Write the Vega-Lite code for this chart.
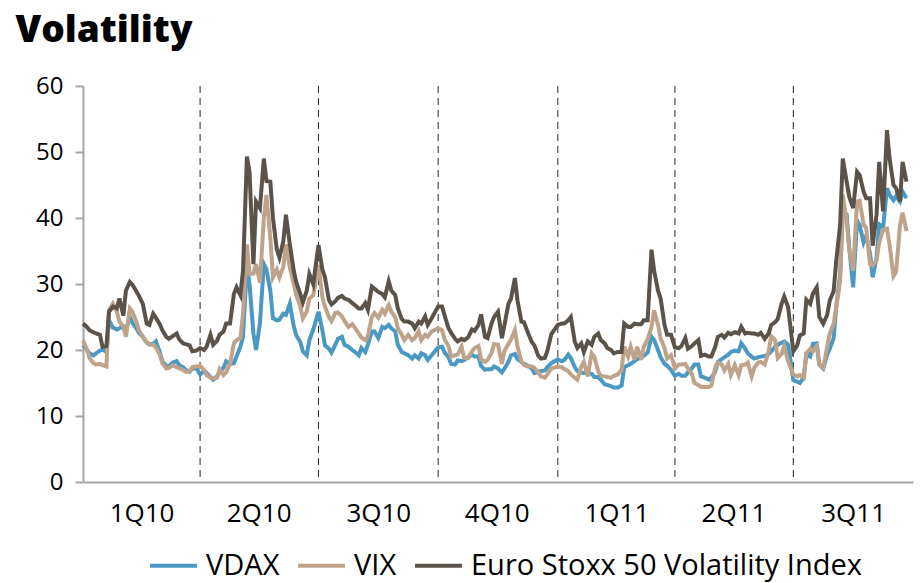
{
"$schema": "https://vega.github.io/schema/vega-lite/v6.json",
"width": 830, "height": 396,
"autosize": {"type": "none"},
"padding": {"left": 83, "top": 86, "right": 8, "bottom": 101},
"background": "white",
"config": {"view": {"stroke": null}, "font": "Open Sans"},
"title": {"text": "Volatility", "anchor": "start", "frame": "bounds", "fontSize": 37, "fontWeight": 800, "font": "Open Sans", "color": "#000000", "dx": -20, "offset": 24},
"datasets": {
"quarters": [{"date": "2010-04-01"}, {"date": "2010-07-01"}, {"date": "2010-10-01"}, {"date": "2011-01-01"}, {"date": "2011-04-01"}, {"date": "2011-07-01"}],
"vol": [
{"date":"2010-01-01","VDAX":20.8,"VIX":21.5,"VSTOXX":24.0},
{"date":"2010-01-04","VDAX":20.0,"VIX":20.1,"VSTOXX":23.5},
{"date":"2010-01-06","VDAX":19.5,"VIX":18.8,"VSTOXX":23.0},
{"date":"2010-01-09","VDAX":19.2,"VIX":18.0,"VSTOXX":22.7},
{"date":"2010-01-11","VDAX":19.5,"VIX":17.8,"VSTOXX":22.5},
{"date":"2010-01-14","VDAX":19.9,"VIX":17.9,"VSTOXX":22.3},
{"date":"2010-01-16","VDAX":20.1,"VIX":17.7,"VSTOXX":20.5},
{"date":"2010-01-19","VDAX":19.7,"VIX":17.5,"VSTOXX":20.6},
{"date":"2010-01-21","VDAX":24.5,"VIX":26.0,"VSTOXX":25.8},
{"date":"2010-01-24","VDAX":23.4,"VIX":27.0,"VSTOXX":26.6},
{"date":"2010-01-27","VDAX":23.1,"VIX":25.8,"VSTOXX":26.3},
{"date":"2010-01-29","VDAX":23.3,"VIX":24.3,"VSTOXX":27.8},
{"date":"2010-02-01","VDAX":23.6,"VIX":23.5,"VSTOXX":25.2},
{"date":"2010-02-03","VDAX":23.0,"VIX":22.0,"VSTOXX":29.0},
{"date":"2010-02-06","VDAX":25.0,"VIX":26.3,"VSTOXX":30.3},
{"date":"2010-02-08","VDAX":24.1,"VIX":25.8,"VSTOXX":29.9},
{"date":"2010-02-11","VDAX":23.3,"VIX":24.3,"VSTOXX":28.9},
{"date":"2010-02-13","VDAX":22.6,"VIX":23.0,"VSTOXX":28.2},
{"date":"2010-02-16","VDAX":22.0,"VIX":22.0,"VSTOXX":27.0},
{"date":"2010-02-19","VDAX":21.1,"VIX":21.2,"VSTOXX":24.0},
{"date":"2010-02-21","VDAX":20.9,"VIX":20.8,"VSTOXX":23.8},
{"date":"2010-02-24","VDAX":20.9,"VIX":20.8,"VSTOXX":25.5},
{"date":"2010-02-26","VDAX":21.3,"VIX":20.4,"VSTOXX":24.9},
{"date":"2010-03-01","VDAX":19.7,"VIX":19.3,"VSTOXX":23.9},
{"date":"2010-03-03","VDAX":18.3,"VIX":18.0,"VSTOXX":23.0},
{"date":"2010-03-06","VDAX":17.6,"VIX":17.2,"VSTOXX":22.0},
{"date":"2010-03-08","VDAX":17.5,"VIX":17.3,"VSTOXX":21.7},
{"date":"2010-03-11","VDAX":18.1,"VIX":17.7,"VSTOXX":22.1},
{"date":"2010-03-14","VDAX":18.3,"VIX":17.4,"VSTOXX":22.5},
{"date":"2010-03-16","VDAX":17.7,"VIX":17.2,"VSTOXX":21.6},
{"date":"2010-03-19","VDAX":17.4,"VIX":17.0,"VSTOXX":21.0},
{"date":"2010-03-21","VDAX":17.0,"VIX":16.7,"VSTOXX":20.9},
{"date":"2010-03-24","VDAX":16.7,"VIX":16.8,"VSTOXX":20.7},
{"date":"2010-03-26","VDAX":17.2,"VIX":17.4,"VSTOXX":19.8},
{"date":"2010-03-29","VDAX":17.3,"VIX":17.5,"VSTOXX":19.9},
{"date":"2010-04-01","VDAX":16.3,"VIX":17.6,"VSTOXX":20.3},
{"date":"2010-04-04","VDAX":16.8,"VIX":17.0,"VSTOXX":20.0},
{"date":"2010-04-06","VDAX":16.5,"VIX":16.2,"VSTOXX":20.5},
{"date":"2010-04-09","VDAX":15.9,"VIX":15.8,"VSTOXX":22.3},
{"date":"2010-04-11","VDAX":15.5,"VIX":15.7,"VSTOXX":20.8},
{"date":"2010-04-14","VDAX":16.0,"VIX":15.8,"VSTOXX":21.4},
{"date":"2010-04-16","VDAX":16.6,"VIX":17.1,"VSTOXX":22.3},
{"date":"2010-04-19","VDAX":17.3,"VIX":16.2,"VSTOXX":22.8},
{"date":"2010-04-21","VDAX":18.3,"VIX":16.6,"VSTOXX":24.0},
{"date":"2010-04-24","VDAX":17.9,"VIX":17.9,"VSTOXX":24.0},
{"date":"2010-04-27","VDAX":18.0,"VIX":21.0,"VSTOXX":28.5},
{"date":"2010-04-29","VDAX":19.0,"VIX":21.5,"VSTOXX":29.5},
{"date":"2010-05-02","VDAX":20.5,"VIX":21.8,"VSTOXX":28.3},
{"date":"2010-05-04","VDAX":22.0,"VIX":25.5,"VSTOXX":32.0},
{"date":"2010-05-07","VDAX":32.9,"VIX":36.0,"VSTOXX":49.3},
{"date":"2010-05-09","VDAX":30.0,"VIX":31.5,"VSTOXX":47.0},
{"date":"2010-05-12","VDAX":22.5,"VIX":31.6,"VSTOXX":33.0},
{"date":"2010-05-14","VDAX":20.0,"VIX":33.0,"VSTOXX":42.5},
{"date":"2010-05-17","VDAX":24.0,"VIX":30.2,"VSTOXX":41.5},
{"date":"2010-05-20","VDAX":33.0,"VIX":40.0,"VSTOXX":49.0},
{"date":"2010-05-22","VDAX":32.2,"VIX":43.5,"VSTOXX":45.6},
{"date":"2010-05-25","VDAX":29.0,"VIX":37.0,"VSTOXX":45.5},
{"date":"2010-05-27","VDAX":24.8,"VIX":31.0,"VSTOXX":40.0},
{"date":"2010-05-30","VDAX":24.5,"VIX":32.2,"VSTOXX":35.2},
{"date":"2010-06-01","VDAX":24.6,"VIX":31.0,"VSTOXX":34.0},
{"date":"2010-06-04","VDAX":25.5,"VIX":32.6,"VSTOXX":36.5},
{"date":"2010-06-06","VDAX":25.3,"VIX":36.0,"VSTOXX":40.5},
{"date":"2010-06-09","VDAX":27.0,"VIX":32.5,"VSTOXX":36.0},
{"date":"2010-06-12","VDAX":23.6,"VIX":30.0,"VSTOXX":32.0},
{"date":"2010-06-14","VDAX":22.2,"VIX":28.3,"VSTOXX":30.2},
{"date":"2010-06-17","VDAX":21.2,"VIX":26.6,"VSTOXX":28.5},
{"date":"2010-06-19","VDAX":19.8,"VIX":24.8,"VSTOXX":27.2},
{"date":"2010-06-22","VDAX":19.2,"VIX":25.8,"VSTOXX":29.0},
{"date":"2010-06-24","VDAX":21.5,"VIX":27.8,"VSTOXX":31.5},
{"date":"2010-06-27","VDAX":23.1,"VIX":28.3,"VSTOXX":30.0},
{"date":"2010-07-01","VDAX":25.8,"VIX":32.9,"VSTOXX":35.9},
{"date":"2010-07-04","VDAX":23.0,"VIX":28.0,"VSTOXX":32.2},
{"date":"2010-07-06","VDAX":20.7,"VIX":26.6,"VSTOXX":31.0},
{"date":"2010-07-09","VDAX":20.2,"VIX":25.0,"VSTOXX":27.6},
{"date":"2010-07-11","VDAX":19.6,"VIX":24.4,"VSTOXX":26.9},
{"date":"2010-07-14","VDAX":20.8,"VIX":25.6,"VSTOXX":27.4},
{"date":"2010-07-16","VDAX":21.7,"VIX":25.7,"VSTOXX":27.9},
{"date":"2010-07-19","VDAX":22.0,"VIX":25.1,"VSTOXX":28.2},
{"date":"2010-07-21","VDAX":20.8,"VIX":24.4,"VSTOXX":27.8},
{"date":"2010-07-24","VDAX":20.5,"VIX":23.5,"VSTOXX":27.6},
{"date":"2010-07-27","VDAX":20.0,"VIX":23.9,"VSTOXX":27.1},
{"date":"2010-07-29","VDAX":19.7,"VIX":23.4,"VSTOXX":26.8},
{"date":"2010-08-01","VDAX":19.2,"VIX":22.5,"VSTOXX":26.3},
{"date":"2010-08-03","VDAX":20.3,"VIX":21.9,"VSTOXX":26.3},
{"date":"2010-08-06","VDAX":19.7,"VIX":21.5,"VSTOXX":27.1},
{"date":"2010-08-08","VDAX":20.8,"VIX":22.1,"VSTOXX":26.1},
{"date":"2010-08-11","VDAX":22.8,"VIX":25.0,"VSTOXX":29.6},
{"date":"2010-08-13","VDAX":22.8,"VIX":25.6,"VSTOXX":29.3},
{"date":"2010-08-16","VDAX":21.8,"VIX":24.9,"VSTOXX":28.8},
{"date":"2010-08-19","VDAX":23.5,"VIX":26.1,"VSTOXX":28.5},
{"date":"2010-08-21","VDAX":23.3,"VIX":25.5,"VSTOXX":28.0},
{"date":"2010-08-24","VDAX":23.8,"VIX":26.8,"VSTOXX":30.4},
{"date":"2010-08-26","VDAX":23.3,"VIX":25.8,"VSTOXX":29.0},
{"date":"2010-08-29","VDAX":22.8,"VIX":25.0,"VSTOXX":28.3},
{"date":"2010-08-31","VDAX":20.8,"VIX":23.3,"VSTOXX":26.3},
{"date":"2010-09-03","VDAX":19.7,"VIX":22.3,"VSTOXX":24.7},
{"date":"2010-09-05","VDAX":19.5,"VIX":21.5,"VSTOXX":24.3},
{"date":"2010-09-08","VDAX":19.2,"VIX":22.3,"VSTOXX":24.3},
{"date":"2010-09-11","VDAX":18.7,"VIX":21.5,"VSTOXX":24.0},
{"date":"2010-09-13","VDAX":19.2,"VIX":21.8,"VSTOXX":23.3},
{"date":"2010-09-16","VDAX":18.7,"VIX":22.8,"VSTOXX":24.3},
{"date":"2010-09-18","VDAX":19.5,"VIX":21.5,"VSTOXX":24.0},
{"date":"2010-09-21","VDAX":19.2,"VIX":22.3,"VSTOXX":25.1},
{"date":"2010-09-23","VDAX":18.5,"VIX":22.0,"VSTOXX":23.8},
{"date":"2010-09-26","VDAX":19.2,"VIX":22.8,"VSTOXX":24.8},
{"date":"2010-10-01","VDAX":20.4,"VIX":23.3,"VSTOXX":26.6},
{"date":"2010-10-04","VDAX":20.5,"VIX":23.0,"VSTOXX":26.6},
{"date":"2010-10-06","VDAX":19.6,"VIX":21.6,"VSTOXX":25.2},
{"date":"2010-10-09","VDAX":18.9,"VIX":20.6,"VSTOXX":23.3},
{"date":"2010-10-11","VDAX":17.9,"VIX":19.0,"VSTOXX":22.6},
{"date":"2010-10-14","VDAX":17.8,"VIX":19.2,"VSTOXX":21.7},
{"date":"2010-10-16","VDAX":18.4,"VIX":19.3,"VSTOXX":21.3},
{"date":"2010-10-19","VDAX":18.3,"VIX":20.5,"VSTOXX":21.7},
{"date":"2010-10-21","VDAX":18.5,"VIX":18.8,"VSTOXX":21.5},
{"date":"2010-10-24","VDAX":18.9,"VIX":18.8,"VSTOXX":21.9},
{"date":"2010-10-27","VDAX":19.3,"VIX":19.8,"VSTOXX":23.1},
{"date":"2010-10-29","VDAX":19.0,"VIX":20.3,"VSTOXX":22.9},
{"date":"2010-11-01","VDAX":19.0,"VIX":20.6,"VSTOXX":23.8},
{"date":"2010-11-03","VDAX":17.6,"VIX":18.6,"VSTOXX":25.4},
{"date":"2010-11-06","VDAX":17.0,"VIX":18.2,"VSTOXX":22.0},
{"date":"2010-11-08","VDAX":17.1,"VIX":18.5,"VSTOXX":21.8},
{"date":"2010-11-11","VDAX":17.1,"VIX":19.5,"VSTOXX":24.0},
{"date":"2010-11-13","VDAX":17.5,"VIX":20.9,"VSTOXX":25.0},
{"date":"2010-11-16","VDAX":17.2,"VIX":20.8,"VSTOXX":25.8},
{"date":"2010-11-19","VDAX":16.6,"VIX":17.9,"VSTOXX":21.8},
{"date":"2010-11-21","VDAX":17.2,"VIX":19.9,"VSTOXX":23.8},
{"date":"2010-11-24","VDAX":18.2,"VIX":20.9,"VSTOXX":27.0},
{"date":"2010-11-26","VDAX":19.2,"VIX":21.6,"VSTOXX":27.8},
{"date":"2010-11-29","VDAX":19.4,"VIX":23.0,"VSTOXX":30.9},
{"date":"2010-12-01","VDAX":18.6,"VIX":20.5,"VSTOXX":27.5},
{"date":"2010-12-04","VDAX":18.2,"VIX":18.3,"VSTOXX":24.3},
{"date":"2010-12-06","VDAX":17.9,"VIX":17.7,"VSTOXX":24.2},
{"date":"2010-12-09","VDAX":17.6,"VIX":17.5,"VSTOXX":22.6},
{"date":"2010-12-12","VDAX":17.2,"VIX":17.5,"VSTOXX":21.2},
{"date":"2010-12-14","VDAX":16.5,"VIX":17.3,"VSTOXX":20.7},
{"date":"2010-12-17","VDAX":16.7,"VIX":16.6,"VSTOXX":19.1},
{"date":"2010-12-19","VDAX":16.8,"VIX":16.0,"VSTOXX":18.7},
{"date":"2010-12-22","VDAX":16.9,"VIX":15.8,"VSTOXX":18.8},
{"date":"2010-12-24","VDAX":17.4,"VIX":16.3,"VSTOXX":19.9},
{"date":"2010-12-27","VDAX":18.0,"VIX":17.2,"VSTOXX":22.4},
{"date":"2011-01-01","VDAX":18.6,"VIX":17.5,"VSTOXX":23.8},
{"date":"2011-01-04","VDAX":18.3,"VIX":17.4,"VSTOXX":24.0},
{"date":"2011-01-06","VDAX":18.5,"VIX":17.1,"VSTOXX":24.0},
{"date":"2011-01-09","VDAX":19.3,"VIX":16.8,"VSTOXX":24.5},
{"date":"2011-01-11","VDAX":18.8,"VIX":16.3,"VSTOXX":25.0},
{"date":"2011-01-14","VDAX":17.4,"VIX":15.8,"VSTOXX":21.3},
{"date":"2011-01-16","VDAX":16.8,"VIX":15.5,"VSTOXX":20.3},
{"date":"2011-01-19","VDAX":16.6,"VIX":17.5,"VSTOXX":21.0},
{"date":"2011-01-21","VDAX":16.5,"VIX":18.2,"VSTOXX":19.7},
{"date":"2011-01-24","VDAX":16.5,"VIX":16.0,"VSTOXX":21.3},
{"date":"2011-01-27","VDAX":16.4,"VIX":19.5,"VSTOXX":20.8},
{"date":"2011-01-29","VDAX":15.9,"VIX":19.0,"VSTOXX":22.0},
{"date":"2011-02-01","VDAX":15.9,"VIX":16.8,"VSTOXX":22.5},
{"date":"2011-02-03","VDAX":15.5,"VIX":16.1,"VSTOXX":21.5},
{"date":"2011-02-06","VDAX":14.8,"VIX":16.0,"VSTOXX":21.0},
{"date":"2011-02-08","VDAX":14.7,"VIX":15.9,"VSTOXX":20.3},
{"date":"2011-02-11","VDAX":14.5,"VIX":15.8,"VSTOXX":20.0},
{"date":"2011-02-13","VDAX":14.3,"VIX":16.1,"VSTOXX":19.5},
{"date":"2011-02-16","VDAX":14.3,"VIX":16.3,"VSTOXX":19.7},
{"date":"2011-02-19","VDAX":14.6,"VIX":17.0,"VSTOXX":19.7},
{"date":"2011-02-21","VDAX":17.4,"VIX":20.5,"VSTOXX":24.0},
{"date":"2011-02-24","VDAX":17.7,"VIX":19.0,"VSTOXX":23.5},
{"date":"2011-02-26","VDAX":17.9,"VIX":20.5,"VSTOXX":23.5},
{"date":"2011-03-01","VDAX":18.3,"VIX":18.5,"VSTOXX":24.0},
{"date":"2011-03-03","VDAX":18.6,"VIX":20.5,"VSTOXX":23.9},
{"date":"2011-03-06","VDAX":18.9,"VIX":18.5,"VSTOXX":23.9},
{"date":"2011-03-08","VDAX":19.1,"VIX":20.5,"VSTOXX":24.5},
{"date":"2011-03-11","VDAX":19.6,"VIX":21.6,"VSTOXX":24.5},
{"date":"2011-03-14","VDAX":22.0,"VIX":23.5,"VSTOXX":35.2},
{"date":"2011-03-16","VDAX":21.5,"VIX":26.0,"VSTOXX":32.0},
{"date":"2011-03-19","VDAX":20.0,"VIX":23.8,"VSTOXX":29.0},
{"date":"2011-03-21","VDAX":18.9,"VIX":21.8,"VSTOXX":27.8},
{"date":"2011-03-24","VDAX":17.9,"VIX":20.3,"VSTOXX":23.8},
{"date":"2011-03-26","VDAX":17.6,"VIX":18.7,"VSTOXX":22.3},
{"date":"2011-03-29","VDAX":17.0,"VIX":19.2,"VSTOXX":22.3},
{"date":"2011-04-01","VDAX":16.1,"VIX":17.2,"VSTOXX":20.4},
{"date":"2011-04-04","VDAX":16.4,"VIX":17.8,"VSTOXX":20.3},
{"date":"2011-04-06","VDAX":16.1,"VIX":17.8,"VSTOXX":20.6},
{"date":"2011-04-09","VDAX":16.1,"VIX":17.9,"VSTOXX":21.8},
{"date":"2011-04-11","VDAX":16.6,"VIX":17.2,"VSTOXX":20.2},
{"date":"2011-04-14","VDAX":17.2,"VIX":16.4,"VSTOXX":20.6},
{"date":"2011-04-16","VDAX":17.8,"VIX":15.0,"VSTOXX":21.0},
{"date":"2011-04-19","VDAX":17.8,"VIX":14.7,"VSTOXX":21.5},
{"date":"2011-04-21","VDAX":16.0,"VIX":14.4,"VSTOXX":19.1},
{"date":"2011-04-24","VDAX":15.8,"VIX":14.4,"VSTOXX":19.3},
{"date":"2011-04-27","VDAX":15.5,"VIX":14.4,"VSTOXX":19.0},
{"date":"2011-04-29","VDAX":15.8,"VIX":14.6,"VSTOXX":19.0},
{"date":"2011-05-02","VDAX":16.7,"VIX":17.4,"VSTOXX":20.5},
{"date":"2011-05-04","VDAX":18.2,"VIX":18.1,"VSTOXX":22.0},
{"date":"2011-05-07","VDAX":18.6,"VIX":17.8,"VSTOXX":22.3},
{"date":"2011-05-09","VDAX":18.9,"VIX":16.9,"VSTOXX":21.9},
{"date":"2011-05-12","VDAX":19.3,"VIX":17.9,"VSTOXX":22.6},
{"date":"2011-05-14","VDAX":19.7,"VIX":16.2,"VSTOXX":22.4},
{"date":"2011-05-17","VDAX":19.9,"VIX":17.7,"VSTOXX":22.7},
{"date":"2011-05-20","VDAX":19.8,"VIX":16.2,"VSTOXX":22.5},
{"date":"2011-05-22","VDAX":21.0,"VIX":17.7,"VSTOXX":23.5},
{"date":"2011-05-25","VDAX":20.2,"VIX":17.8,"VSTOXX":22.5},
{"date":"2011-05-27","VDAX":19.5,"VIX":18.1,"VSTOXX":22.6},
{"date":"2011-05-30","VDAX":19.0,"VIX":16.0,"VSTOXX":22.5},
{"date":"2011-06-01","VDAX":18.7,"VIX":17.3,"VSTOXX":22.5},
{"date":"2011-06-04","VDAX":18.9,"VIX":18.1,"VSTOXX":22.3},
{"date":"2011-06-06","VDAX":19.0,"VIX":18.2,"VSTOXX":22.6},
{"date":"2011-06-09","VDAX":19.1,"VIX":17.8,"VSTOXX":21.7},
{"date":"2011-06-12","VDAX":19.4,"VIX":19.8,"VSTOXX":22.5},
{"date":"2011-06-14","VDAX":19.8,"VIX":22.1,"VSTOXX":23.8},
{"date":"2011-06-17","VDAX":20.5,"VIX":21.5,"VSTOXX":24.2},
{"date":"2011-06-19","VDAX":20.8,"VIX":18.8,"VSTOXX":24.7},
{"date":"2011-06-22","VDAX":21.1,"VIX":19.4,"VSTOXX":27.0},
{"date":"2011-06-24","VDAX":21.3,"VIX":20.6,"VSTOXX":28.1},
{"date":"2011-06-27","VDAX":20.8,"VIX":18.3,"VSTOXX":26.5},
{"date":"2011-07-01","VDAX":15.4,"VIX":16.3,"VSTOXX":19.8},
{"date":"2011-07-04","VDAX":15.2,"VIX":16.0,"VSTOXX":20.7},
{"date":"2011-07-06","VDAX":15.0,"VIX":16.2,"VSTOXX":22.2},
{"date":"2011-07-09","VDAX":15.8,"VIX":15.8,"VSTOXX":22.5},
{"date":"2011-07-11","VDAX":19.3,"VIX":19.5,"VSTOXX":27.6},
{"date":"2011-07-14","VDAX":19.0,"VIX":20.2,"VSTOXX":27.0},
{"date":"2011-07-16","VDAX":20.9,"VIX":19.8,"VSTOXX":28.5},
{"date":"2011-07-19","VDAX":21.0,"VIX":20.6,"VSTOXX":29.5},
{"date":"2011-07-21","VDAX":17.8,"VIX":17.8,"VSTOXX":25.0},
{"date":"2011-07-24","VDAX":17.2,"VIX":17.3,"VSTOXX":24.0},
{"date":"2011-07-27","VDAX":19.3,"VIX":20.5,"VSTOXX":25.3},
{"date":"2011-07-29","VDAX":20.2,"VIX":22.5,"VSTOXX":27.5},
{"date":"2011-08-01","VDAX":21.8,"VIX":24.0,"VSTOXX":28.9},
{"date":"2011-08-03","VDAX":26.5,"VIX":26.5,"VSTOXX":33.5},
{"date":"2011-08-06","VDAX":31.5,"VIX":30.5,"VSTOXX":39.0},
{"date":"2011-08-08","VDAX":40.5,"VIX":43.5,"VSTOXX":49.0},
{"date":"2011-08-11","VDAX":40.5,"VIX":39.5,"VSTOXX":45.5},
{"date":"2011-08-13","VDAX":35.5,"VIX":35.2,"VSTOXX":43.2},
{"date":"2011-08-16","VDAX":29.5,"VIX":32.0,"VSTOXX":41.5},
{"date":"2011-08-19","VDAX":39.6,"VIX":42.5,"VSTOXX":47.0},
{"date":"2011-08-21","VDAX":38.9,"VIX":42.6,"VSTOXX":46.5},
{"date":"2011-08-24","VDAX":36.3,"VIX":39.0,"VSTOXX":44.0},
{"date":"2011-08-26","VDAX":37.3,"VIX":38.5,"VSTOXX":43.0},
{"date":"2011-08-29","VDAX":34.6,"VIX":33.0,"VSTOXX":43.0},
{"date":"2011-08-31","VDAX":31.0,"VIX":32.8,"VSTOXX":35.8},
{"date":"2011-09-03","VDAX":34.0,"VIX":33.6,"VSTOXX":40.5},
{"date":"2011-09-05","VDAX":39.0,"VIX":36.3,"VSTOXX":48.5},
{"date":"2011-09-08","VDAX":38.5,"VIX":38.2,"VSTOXX":41.0},
{"date":"2011-09-11","VDAX":44.5,"VIX":38.4,"VSTOXX":53.3},
{"date":"2011-09-13","VDAX":43.5,"VIX":35.9,"VSTOXX":49.0},
{"date":"2011-09-16","VDAX":42.7,"VIX":31.2,"VSTOXX":45.0},
{"date":"2011-09-18","VDAX":43.3,"VIX":31.8,"VSTOXX":44.5},
{"date":"2011-09-21","VDAX":42.5,"VIX":38.9,"VSTOXX":42.5},
{"date":"2011-09-23","VDAX":44.0,"VIX":40.8,"VSTOXX":48.5},
{"date":"2011-09-26","VDAX":43.0,"VIX":38.0,"VSTOXX":45.5}
]},
"encoding": {
  "x": {"field": "date", "type": "temporal",
    "scale": {"type": "utc", "domain": [{"year": 2010, "month": 1, "date": 1, "utc": true}, {"year": 2011, "month": 10, "date": 1, "utc": true}]},
    "axis": {"title": null, "grid": false, "ticks": false, "tickSize": 0,
      "values": [{"year": 2010, "month": 2, "date": 15, "utc": true}, {"year": 2010, "month": 5, "date": 16, "utc": true}, {"year": 2010, "month": 8, "date": 16, "utc": true}, {"year": 2010, "month": 11, "date": 15, "utc": true}, {"year": 2011, "month": 2, "date": 15, "utc": true}, {"year": 2011, "month": 5, "date": 16, "utc": true}, {"year": 2011, "month": 8, "date": 16, "utc": true}],
      "labelExpr": "(floor(utcmonth(datum.value)/3)+1) + 'Q' + (utcyear(datum.value)-2000)",
      "domainColor": "#a6a6a6", "domainWidth": 2, "labelFontSize": 26, "labelFont": "Open Sans", "labelColor": "#000000", "labelPadding": 18, "labelFlush": false, "labelOverlap": false}}
},
"layer": [
  {"data": {"name": "quarters"}, "mark": {"type": "rule", "color": "#222222", "strokeDash": [7, 5], "strokeWidth": 1}, "encoding": {}},
  {"data": {"name": "vol"}, "mark": {"type": "line", "strokeWidth": 4},
   "encoding": {
     "y": {"field": "VDAX", "type": "quantitative", "title": null,
       "scale": {"domain": [0, 60], "nice": false, "zero": true},
       "axis": {"values": [0, 10, 20, 30, 40, 50, 60], "grid": false, "domainColor": "#a6a6a6", "domainWidth": 2, "tickColor": "#a6a6a6", "tickWidth": 2, "tickSize": 8, "labelFontSize": 24, "labelFont": "Open Sans", "labelColor": "#000000", "labelPadding": 12}},
     "color": {"datum": "VDAX", "type": "nominal",
       "scale": {"domain": ["VDAX", "VIX", "Euro Stoxx 50 Volatility Index"], "range": ["#4a99c2", "#bfa28a", "#5b534a"]},
       "legend": {"title": null, "orient": "none", "legendX": 65, "legendY": 454, "direction": "horizontal", "symbolType": "stroke", "symbolSize": 2200, "symbolStrokeWidth": 4, "labelFontSize": 29, "labelFont": "Open Sans", "labelColor": "#000000", "labelOffset": 7, "columnPadding": 10, "labelLimit": 700}}
   }},
  {"data": {"name": "vol"}, "mark": {"type": "line", "strokeWidth": 4},
   "encoding": {
     "y": {"field": "VIX", "type": "quantitative", "title": null},
     "color": {"datum": "VIX", "type": "nominal"}
   }},
  {"data": {"name": "vol"}, "mark": {"type": "line", "strokeWidth": 4},
   "encoding": {
     "y": {"field": "VSTOXX", "type": "quantitative", "title": null},
     "color": {"datum": "Euro Stoxx 50 Volatility Index", "type": "nominal"}
   }}
]
}
